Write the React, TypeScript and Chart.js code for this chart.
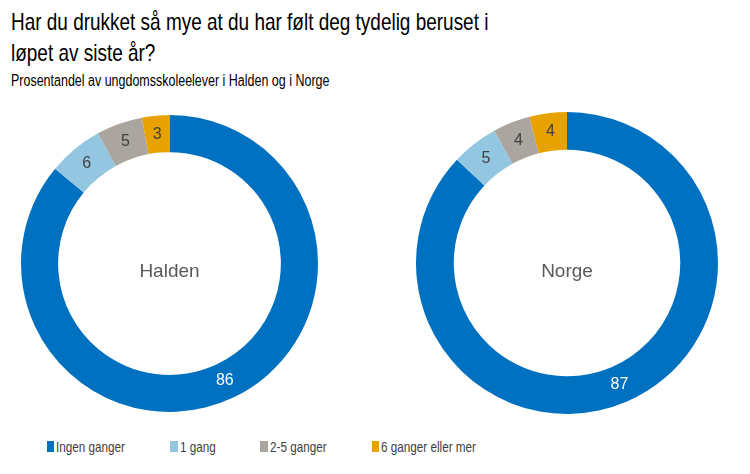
import React, { useEffect, useRef } from 'react';
import { Chart, registerables } from 'chart.js';

Chart.register(...registerables);

const titleLines = ['Har du drukket så mye at du har følt deg tydelig beruset i', 'løpet av siste år?'];
const subtitle = 'Prosentandel av ungdomsskoleelever i Halden og i Norge';
const categories = ['Ingen ganger', '1 gang', '2-5 ganger', '6 ganger eller mer'];
const haldenValues = [86, 6, 5, 3];
const norgeValues = [87, 5, 4, 4];
const seriesColors = ['#0070C0', '#93C6E0', '#AAA59F', '#E8A200'];
const valueLabelColors = ['#FFFFFF', '#404040', '#404040', '#404040'];

const FONT = '"Liberation Sans", Arial, Helvetica, sans-serif';

const ringLabels = {
  id: 'ringLabels',
  afterDatasetsDraw(chart: any, _args: any, opts: any) {
    const ctx = chart.ctx;
    const meta = chart.getDatasetMeta(0);
    const data = chart.data.datasets[0].data;
    ctx.save();
    ctx.font = `16px ${FONT}`;
    ctx.textAlign = 'center';
    ctx.textBaseline = 'middle';
    meta.data.forEach((arc: any, i: number) => {
      const p = arc.tooltipPosition();
      ctx.fillStyle = valueLabelColors[i];
      ctx.fillText(String(data[i]), p.x, p.y);
    });
    const first = meta.data[0];
    ctx.font = `19px ${FONT}`;
    ctx.fillStyle = '#595959';
    ctx.textBaseline = 'alphabetic';
    ctx.fillText(opts.centerText, first.x, first.y + 13.5);
    ctx.restore();
  },
};

function Donut({ values, name, left, top, size }: { values: number[]; name: string; left: number; top: number; size: number }) {
  const ref = useRef<HTMLCanvasElement>(null);
  useEffect(() => {
    if (!ref.current) return;
    const chart = new Chart(ref.current, {
      type: 'doughnut',
      data: {
        labels: categories,
        datasets: [
          {
            data: values,
            backgroundColor: seriesColors,
            borderWidth: 0,
            hoverOffset: 0,
          },
        ],
      },
      options: {
        responsive: false,
        animation: false,
        devicePixelRatio: 1,
        cutout: '75%',
        layout: { padding: 0 },
        plugins: {
          legend: { display: false },
          tooltip: { enabled: false },
          title: { display: false },
          ringLabels: { centerText: name },
        } as any,
        events: [],
      },
      plugins: [ringLabels as any],
    });
    return () => chart.destroy();
  }, [values, name]);
  return (
    <canvas
      ref={ref}
      width={size}
      height={size}
      style={{ position: 'absolute', left, top, width: size, height: size }}
    />
  );
}

const legendSquareX = [46.7, 170, 260, 371.7];
const legendTextX = [56.4, 179.7, 270.4, 381.4];

export default function App() {
  const narrow = (fontSize: number, scale: number, top: number, left: number, text: string, color: string, lineHeight: number) => (
    <div
      style={{
        position: 'absolute',
        left,
        top,
        fontFamily: FONT,
        fontSize,
        lineHeight: `${lineHeight}px`,
        color,
        whiteSpace: 'nowrap',
        transform: `scaleX(${scale})`,
        transformOrigin: 'left top',
      }}
    >
      {text}
    </div>
  );
  return (
    <div style={{ position: 'absolute', left: 0, top: 0, width: 750, height: 474, background: '#fff', overflow: 'hidden' }}>
      {narrow(24, 0.79, 6.2, 10.5, titleLines[0], '#000', 31)}
      {narrow(24, 0.79, 37.2, 10.5, titleLines[1], '#000', 31)}
      {narrow(16, 0.78, 72.5, 10.5, subtitle, '#000', 16)}
      <Donut values={haldenValues} name="Halden" left={21} top={115} size={297} />
      <Donut values={norgeValues} name="Norge" left={416} top={112} size={302} />
      {categories.map((c, i) => (
        <React.Fragment key={c}>
          <div
            style={{
              position: 'absolute',
              left: legendSquareX[i],
              top: 440.5,
              width: 7.5,
              height: 11,
              background: seriesColors[i],
            }}
          />
          {narrow(15, 0.78, 439, legendTextX[i], c, '#404040', 15)}
        </React.Fragment>
      ))}
    </div>
  );
}
